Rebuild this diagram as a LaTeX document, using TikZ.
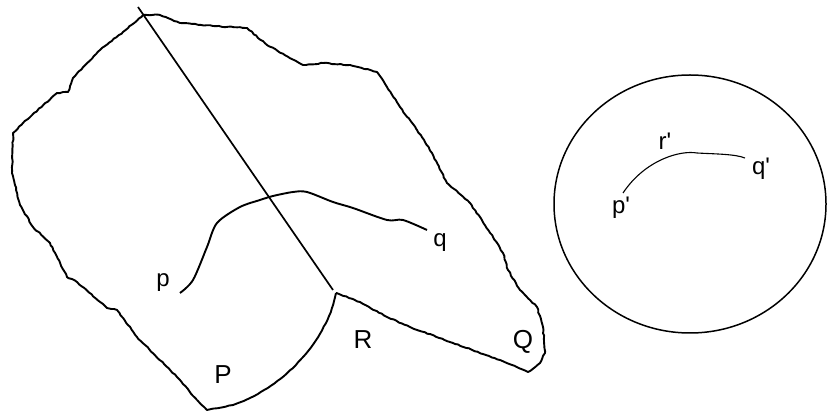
\documentclass[tikz,border=0pt]{standalone}
\usepackage{fontspec}
\setmainfont{Liberation Sans}[Ligatures=TeXOff]
\usetikzlibrary{decorations.pathmorphing}
\begin{document}
\begin{tikzpicture}[x=1pt,y=-1pt,
  outline/.style={line width=1.9pt,line join=round,
    decorate,decoration={random steps,segment length=3pt,amplitude=0.5pt}},
  softline/.style={line width=1.9pt,line join=round,
    decorate,decoration={random steps,segment length=4pt,amplitude=0.3pt}},
  smoothline/.style={line width=1.9pt,line join=round},
  cutline/.style={line width=1.7pt},
  lbl/.style={font=\fontsize{26}{30}\selectfont,inner sep=0pt},
  plbl/.style={font=\fontsize{24}{28}\selectfont,inner sep=0pt}]
\pgfmathsetseed{7}
\useasboundingbox (0,0) rectangle (827,411);
\coordinate (top) at (143,15);
\coordinate (ltop) at (138,7);
\coordinate (J) at (336,293);
% outer wiggly outline
\draw[outline] (top) -- (160,15) -- (180,23) -- (213,26) -- (247,28) -- (267,45)
  -- (303,65) -- (323,63) -- (350,65) -- (377,72) -- (387,87) -- (400,107)
  -- (417,130) -- (432,153) -- (447,183) -- (470,203) -- (493,237) -- (503,253)
  -- (508,270) -- (520,290) -- (537,307) -- (543,327) -- (545,353) -- (540,363)
  -- (528,372) -- (500,360) -- (453,343) -- (410,327) -- (387,317) -- (360,302)
  -- (J);
\draw[softline] (J) .. controls (328,335) and (290,385) .. (233,405)
  -- (207,410) -- (197,400);
\draw[outline] (197,400) -- (177,377) -- (137,337) -- (117,310) -- (107,308)
  -- (77,282) -- (67,277) -- (50,243) -- (33,227) -- (20,205) -- (12,173)
  -- (13,133) -- (23,123) -- (57,93) -- (68,92) -- (73,78) -- (100,50)
  -- (123,32) -- (top);
% straight cut
\draw[cutline] (ltop) -- (333,290);
% curve from p to q
\coordinate (pend) at (180,293);
\coordinate (qend) at (427,230);
\draw[smoothline] plot[smooth,tension=0.5] coordinates {(180,293) (193,280)
  (207,247) (217,223) (240,207) (260,200) (273,196) (293,192) (307,192)
  (333,202) (353,208) (387,220) (403,220) (427,230)};
% labels
\node[plbl] (p) at (163,283) {p};
\node[plbl] (q) at (440,243) {q};
\node[lbl] (P) at (223,375) {P};
\node[lbl] (R) at (363,340) {R};
\node[lbl] (Q) at (523,342) {Q};
% disc on right
\draw[line width=1.5pt] (690,204) ellipse [x radius=136pt, y radius=129pt];
\coordinate (pp) at (623,193);
\coordinate (qq) at (745,158);
\draw[line width=1.1pt] (pp) .. controls (645,160) and (680,150) .. (697,153)
  .. controls (715,154) and (735,154) .. (qq);
\node[plbl] (rl) at (665,141) {r'};
\node[plbl] (ql) at (761,169) {q'};
\node[plbl] (pl) at (621,208) {p'};
\end{tikzpicture}
\end{document}
